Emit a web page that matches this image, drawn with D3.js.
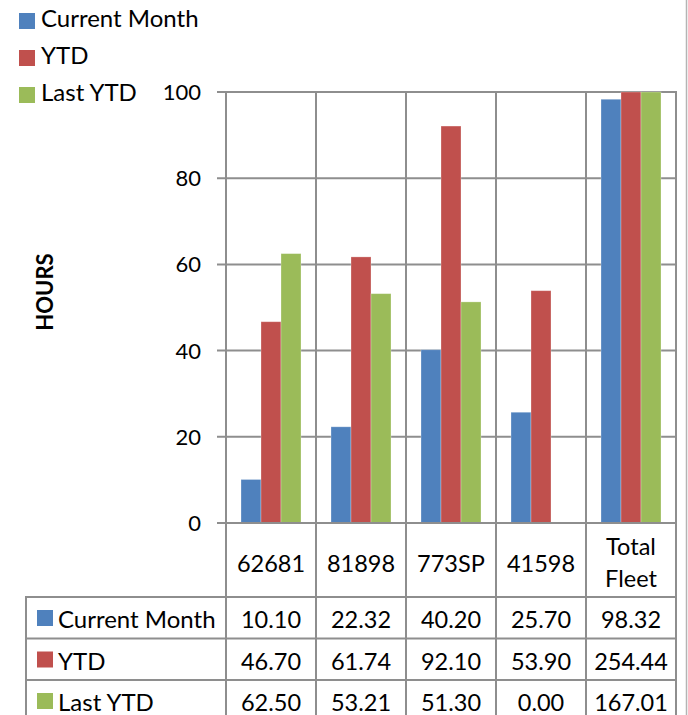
<!DOCTYPE html>
<html>
<head>
<meta charset="utf-8">
<script src="https://cdn.jsdelivr.net/npm/d3@7"></script>
<style>
  body { margin: 0; background: #fff; }
  text { font-family: Lato, "Open Sans", sans-serif; fill: #000; }
</style>
</head>
<body>
<script>
// data
var categories = ["62681", "81898", "773SP", "41598", "Total Fleet"];
var seriesNames = ["Current Month", "YTD", "Last YTD"];
var currentMonth = [10.10, 22.32, 40.20, 25.70, 98.32];
var ytd = [46.70, 61.74, 92.10, 53.90, 254.44];
var lastYtd = [62.50, 53.21, 51.30, 0.00, 167.01];
var yTicks = [0, 20, 40, 60, 80, 100];

var seriesValues = [currentMonth, ytd, lastYtd];
var colors = ["#4F81BD", "#C0504D", "#9BBB59"];
var gridColor = "#8e8e8e";

var W = 688, H = 715;
var plot = { left: 226, right: 676, top: 92, bottom: 523 };
var table = { left: 26, top: 597, rowH: 41.5 };

var svg = d3.select("body").append("svg")
    .attr("width", W)
    .attr("height", H);

var x = d3.scaleBand()
    .domain(categories)
    .range([plot.left, plot.right]);

var xInner = d3.scaleBand()
    .domain(seriesNames)
    .range([15, x.bandwidth() - 15]);

var y = d3.scaleLinear()
    .domain([0, 100])
    .range([plot.bottom, plot.top])
    .clamp(true);

// outer frame line at the right
svg.append("line")
    .attr("x1", 686.5).attr("x2", 686.5)
    .attr("y1", 0).attr("y2", H)
    .attr("stroke", "#b4b4b4")
    .attr("stroke-width", 1.5);

// horizontal grid + ticks
svg.append("g")
    .selectAll("line")
    .data(yTicks)
    .enter().append("line")
    .attr("x1", plot.left - 9)
    .attr("x2", plot.right)
    .attr("y1", function (d) { return y(d); })
    .attr("y2", function (d) { return y(d); })
    .attr("stroke", gridColor)
    .attr("stroke-width", 2);

// y labels
svg.append("g")
    .selectAll("text")
    .data(yTicks)
    .enter().append("text")
    .attr("x", 201)
    .attr("y", function (d) { return y(d) + 8; })
    .attr("text-anchor", "end")
    .attr("font-size", 22)
    .text(function (d) { return d; });

// vertical separators, running down through the table
var bounds = categories.map(function (c) { return x(c); }).concat([plot.right]);
svg.append("g")
    .selectAll("line")
    .data(bounds)
    .enter().append("line")
    .attr("x1", function (d) { return d; })
    .attr("x2", function (d) { return d; })
    .attr("y1", plot.top - 1)
    .attr("y2", H)
    .attr("stroke", gridColor)
    .attr("stroke-width", 2);

// bars
var groups = svg.append("g")
    .selectAll("g")
    .data(categories)
    .enter().append("g")
    .attr("transform", function (c) { return "translate(" + x(c) + ",0)"; });

groups.selectAll("rect")
    .data(function (c, i) {
        return seriesNames.map(function (s, j) {
            return { name: s, value: seriesValues[j][i], color: colors[j] };
        });
    })
    .enter().append("rect")
    .attr("x", function (d) { return xInner(d.name); })
    .attr("width", xInner.bandwidth())
    .attr("y", function (d) { return y(d.value); })
    .attr("height", function (d) { return plot.bottom - y(d.value); })
    .attr("fill", function (d) { return d.color; })
    .attr("stroke", "#fff")
    .attr("stroke-opacity", 0.35)
    .attr("stroke-width", 0.8);

// redraw zero line above bars
svg.append("line")
    .attr("x1", plot.left - 9).attr("x2", plot.right)
    .attr("y1", y(0)).attr("y2", y(0))
    .attr("stroke", gridColor)
    .attr("stroke-width", 2);

// category labels
svg.append("g")
    .selectAll("text")
    .data(categories)
    .enter().append("text")
    .attr("text-anchor", "middle")
    .attr("font-size", 23.5)
    .attr("x", function (c) { return x(c) + x.bandwidth() / 2; })
    .each(function (c) {
        var words = c === "Total Fleet" ? ["Total", "Fleet"] : [c];
        var t = d3.select(this);
        if (words.length === 1) {
            t.attr("y", 572).text(c);
        } else {
            words.forEach(function (w, k) {
                t.append("tspan")
                    .attr("x", x(c) + x.bandwidth() / 2)
                    .attr("y", 555 + k * 32)
                    .text(w);
            });
        }
    });

// table grid
var rowLines = d3.range(seriesNames.length + 1).map(function (k) { return table.top + k * table.rowH; });
svg.append("g")
    .selectAll("line")
    .data(rowLines)
    .enter().append("line")
    .attr("x1", table.left)
    .attr("x2", plot.right)
    .attr("y1", function (d) { return d; })
    .attr("y2", function (d) { return d; })
    .attr("stroke", gridColor)
    .attr("stroke-width", 2);

svg.append("line")
    .attr("x1", table.left).attr("x2", table.left)
    .attr("y1", table.top - 1).attr("y2", H)
    .attr("stroke", gridColor)
    .attr("stroke-width", 2);

// table rows
var rows = svg.append("g")
    .selectAll("g")
    .data(seriesNames)
    .enter().append("g")
    .attr("transform", function (s, j) { return "translate(0," + (table.top + j * table.rowH) + ")"; });

rows.append("rect")
    .attr("x", 37)
    .attr("y", 13)
    .attr("width", 16)
    .attr("height", 16)
    .attr("fill", function (s, j) { return colors[j]; });

rows.append("text")
    .attr("x", 58)
    .attr("y", 31)
    .attr("font-size", 24)
    .text(function (s) { return s; });

rows.selectAll("text.val")
    .data(function (s, j) { return seriesValues[j]; })
    .enter().append("text")
    .attr("class", "val")
    .attr("text-anchor", "middle")
    .attr("font-size", 23.5)
    .attr("x", function (v, i) { return x(categories[i]) + x.bandwidth() / 2; })
    .attr("y", 31)
    .text(function (v) { return v.toFixed(2); });

// legend
var legend = svg.append("g")
    .selectAll("g")
    .data(seriesNames)
    .enter().append("g")
    .attr("transform", function (s, j) { return "translate(19," + (13 + j * 37) + ")"; });

legend.append("rect")
    .attr("width", 16)
    .attr("height", 16)
    .attr("fill", function (s, j) { return colors[j]; });

legend.append("text")
    .attr("x", 22)
    .attr("y", 14)
    .attr("font-size", 24)
    .text(function (s) { return s; });

// axis title
svg.append("text")
    .attr("transform", "translate(53,292) rotate(-90)")
    .attr("text-anchor", "middle")
    .attr("font-size", 22)
    .attr("font-weight", "bold")
    .text("HOURS");
</script>
</body>
</html>
